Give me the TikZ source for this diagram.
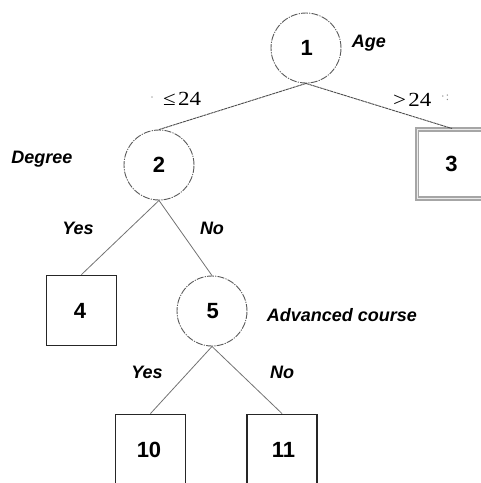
\documentclass[tikz,border=0pt]{standalone}
\usepackage{graphicx}
\usepackage{fontspec}
\setmainfont{Liberation Sans}
\newfontfamily\serifnum{Liberation Serif}
\begin{document}
\begin{tikzpicture}[x=1pt,y=-1pt,
  decision/.style={circle,draw=black!65,line width=0.9pt,
    dash pattern=on 7pt off 1.2pt on 1.2pt off 1.2pt,
    minimum size=70pt,inner sep=0pt,font=\bfseries\fontsize{22}{22}\selectfont},
  leaf/.style={rectangle,draw=black!85,line width=1.9pt,
    minimum width=70pt,minimum height=70pt,inner sep=0pt,
    font=\bfseries\fontsize{22}{22}\selectfont},
  greyleaf/.style={rectangle,draw=black!35,line width=2pt,double=black!8,double distance=0.6pt,
    minimum width=70pt,minimum height=69pt,inner sep=0pt,
    font=\bfseries\fontsize{22}{22}\selectfont},
  upedge/.style={draw=black!70,line width=0.9pt,dash pattern=on 3pt off 0.6pt},
  edge/.style={draw=black!55,line width=0.8pt},
  attr/.style={font=\bfseries\itshape\fontsize{18}{18}\selectfont},
  cond/.style={anchor=base west,inner sep=0pt,font=\serifnum\fontsize{20}{20}\selectfont},
  speck/.style={text=black!45,inner sep=0pt,font=\serifnum\fontsize{12}{12}\selectfont}]
\useasboundingbox (0,0) rectangle (481,483);
\clip (0,0) rectangle (481,483);

% decision nodes
\node[decision] (n1) at (306,48) {\kern1.5pt 1};
\node[decision] (n2) at (159,165) {2};
\node[decision] (n5) at (212,311) {\kern1.5pt 5};

% leaves
\node[greyleaf] (n3) at (452,164) {\kern-1pt 3};
\node[leaf] (n4) at (81.5,310.5) {\kern-3pt 4};
\node[leaf] (n10) at (150.5,449.5) {\kern-3pt 10};
\node[leaf] (n11) at (282,449.5) {\kern3pt 11};

% branches
\draw[upedge] (n1.south) -- (n2.north);
\draw[upedge] (n1.south) -- (n3.north);
\draw[edge] (n2.south) -- (n4.north);
\draw[edge] (n2.south) -- (n5.north);
\draw[edge] (n5.south) -- (n10.north);
\draw[edge] (n5.south) -- (n11.north);

% attribute names
\node[attr] (lAge) at (369,43) {Age};
\node[attr] (lDeg) at (42,159) {Degree};
\node[attr] (lAdv) at (342,315) {Advanced course};

% branch conditions
\node[cond] (cLe) at (163,105) {\scalebox{1.15}[1]{≤\kern2pt 24}};
\node[cond] (cGt) at (393,106) {\scalebox{1.15}[1]{>\kern2pt 24}};
\node[speck] (s1) at (152,99) {·};
\node[speck] (s2) at (445,98) {·\kern1pt:};
\node[attr] (y1) at (78,228) {Yes};
\node[attr] (no1) at (212,228) {No};
\node[attr] (y2) at (147,372) {Yes};
\node[attr] (no2) at (282,372) {No};
\end{tikzpicture}
\end{document}
